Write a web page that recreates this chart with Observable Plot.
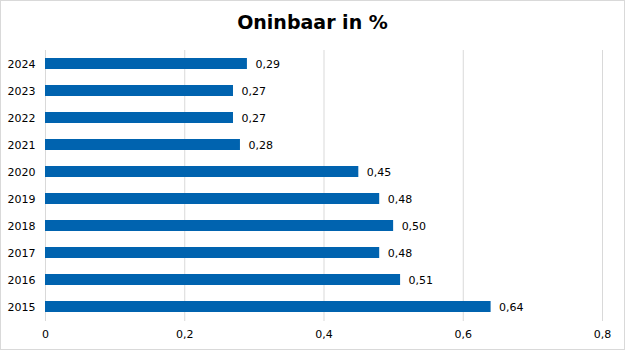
<!DOCTYPE html>
<html>
<head>
<meta charset="utf-8">
<script src="https://cdn.jsdelivr.net/npm/d3@7"></script>
<script src="https://cdn.jsdelivr.net/npm/@observablehq/plot@0.6"></script>
<style>
  html, body { margin: 0; padding: 0; background: #fff; }
  #wrap { position: relative; width: 625px; height: 350px; overflow: hidden; background: #fff; font-family: "DejaVu Sans", Verdana, sans-serif; }
  #title { height: 40px; line-height: 40px; text-align: center; font-size: 19px; font-weight: bold; color: #000; padding-top: 2px; box-sizing: border-box; }
  #border { position: absolute; left: 0; top: 0; width: 625px; height: 350px; box-sizing: border-box; border: 1px solid #d9d9d9; pointer-events: none; }
  svg { display: block; }
</style>
</head>
<body>
<div id="wrap">
  <div id="title">Oninbaar in %</div>
  <div id="chart"></div>
  <div id="border"></div>
</div>
<script>
const years = ["2024", "2023", "2022", "2021", "2020", "2019", "2018", "2017", "2016", "2015"];
const values = [0.29, 0.27, 0.27, 0.28, 0.45, 0.48, 0.50, 0.48, 0.51, 0.64];
const xTicks = [0, 0.2, 0.4, 0.6, 0.8];

const data = years.map((y, i) => ({year: y, value: values[i]}));
const fmt = v => v.toFixed(2).replace(".", ",");
const fmtTick = v => String(v).replace(".", ",");

const chart = Plot.plot({
  width: 625,
  height: 310,
  marginTop: 10,
  marginBottom: 29,
  marginLeft: 45,
  marginRight: 23,
  style: {fontFamily: "DejaVu Sans, Verdana, sans-serif", fontSize: "11px", color: "#000", background: "#fff"},
  x: {domain: [0, 0.8], ticks: xTicks, tickFormat: fmtTick, label: null, tickSize: 0, tickPadding: 9},
  y: {domain: years, paddingInner: 0.59, paddingOuter: 0.295, label: null, tickSize: 0, tickPadding: 10},
  marks: [
    Plot.ruleX(xTicks, {stroke: "#d9d9d9", strokeWidth: 1}),
    Plot.barX(data, {x: "value", y: "year", fill: "#0063af"}),
    Plot.text(data, {x: "value", y: "year", text: d => fmt(d.value), textAnchor: "start", dx: 8, fill: "#000", fontSize: 11}),
    Plot.axisX({ticks: xTicks, tickFormat: fmtTick, tickSize: 0, tickPadding: 9, label: null, fontSize: 11}),
    Plot.axisY({tickSize: 0, tickPadding: 10, label: null, fontSize: 11})
  ]
});
document.getElementById("chart").appendChild(chart);
</script>
</body>
</html>
